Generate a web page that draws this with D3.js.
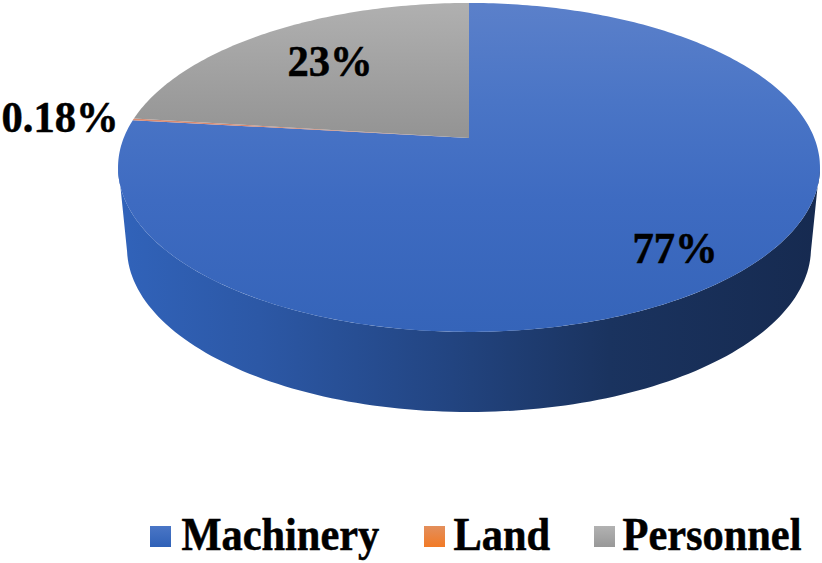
<!DOCTYPE html>
<html><head><meta charset="utf-8">
<script src="https://cdn.jsdelivr.net/npm/d3@7"></script>
<style>html,body{margin:0;padding:0;background:#fff}svg{display:block}text{font-family:"Liberation Serif",serif;font-weight:bold;fill:#000;stroke:#000;stroke-width:.5px}</style>
</head><body><svg id="c" width="822" height="563"></svg>
<script>
const categories=["Machinery","Land","Personnel"];
const shares=[76.82,0.18,23];
const valueLabels=["77%","0.18%","23%"];
const colors=["#4472c4","#ed7d31","#a5a5a5"];

const svg=d3.select("#c");
const defs=svg.append("defs");
function grad(id,horizontal,stops){
  const g=defs.append("linearGradient").attr("id",id).attr("gradientUnits","userSpaceOnUse");
  if(horizontal) g.attr("x1",118).attr("x2",820).attr("y1",0).attr("y2",0);
  else g.attr("x1",0).attr("x2",0).attr("y1",3).attr("y2",332);
  stops.forEach(s=>g.append("stop").attr("offset",s[0]).attr("stop-color",s[1]));
}
function swatch(id,stops){
  const g=defs.append("linearGradient").attr("id",id).attr("x1",0).attr("x2",0).attr("y1",0).attr("y2",1);
  stops.forEach((c,i)=>g.append("stop").attr("offset",i).attr("stop-color",c));
}
grad("topBlue",false,[[0,"#5b80ca"],[0.3,"#4a75c6"],[0.6,"#3e6bc1"],[1,"#3564b9"]]);
grad("topGray",false,[[0,"#b0b0b0"],[0.4,"#949494"]]);
grad("side",true,[[0,"#3163ba"],[0.2,"#2c58a6"],[0.45,"#234684"],[0.7,"#1a335f"],[1,"#162a50"]]);
swatch("sw0",["#4a76c6","#2f61b7"]);
swatch("sw1",["#e38f5c","#f27a26"]);
swatch("sw2",["#b2b2b2","#989898"]);

const cx=469,apexY=138,k=0.179,A=345.3,C=159.2;
function rim(a){
  const u=Math.sin(a),v=Math.cos(a),w=1+k*v;
  return [cx+A*u/w,apexY-C*v/w];
}
const pie=d3.pie().sort(null).value(d=>d)(shares);
const line=d3.line();
function wedge(d){
  const n=Math.max(2,Math.ceil((d.endAngle-d.startAngle)*60));
  const pts=[[cx,apexY]];
  d3.range(n+1).forEach(i=>pts.push(rim(d.startAngle+(d.endAngle-d.startAngle)*i/n)));
  return line(pts)+"Z";
}
// side wall: hull of the top rim and the lower (slightly smaller) rim
const botCx=469,botCy=248,botRx=342,botRy=164;
function botRim(a){return [botCx+botRx*Math.sin(a),botCy-botRy*Math.cos(a)];}
const sidePts=[];
d3.range(0,121).forEach(i=>sidePts.push(botRim(Math.PI/2+0.02+(Math.PI-0.04)*i/120)));
const topStart=Math.PI*1.5-0.16,topEnd=Math.PI/2+0.16;
d3.range(0,121).forEach(i=>sidePts.push(rim(topStart+(topEnd-topStart)*i/120)));
svg.append("path").attr("d",line(sidePts)+"Z").attr("fill","url(#side)");

const fills=["url(#topBlue)","#d98a70","url(#topGray)"];
svg.selectAll("path.s").data(pie).join("path").attr("class","s")
  .attr("d",wedge).attr("fill",(d,i)=>fills[i]);

const labelPos=[[675,263],[60,132],[330,76]];
svg.selectAll("text.v").data(valueLabels).join("text").attr("class","v")
  .attr("transform",(d,i)=>`translate(${labelPos[i][0]},${labelPos[i][1]}) scale(1,1.05)`)
  .attr("text-anchor","middle").attr("font-size",42.6).text(d=>d);

const legX=[150,424,594],legText=[181.5,453.5,622.5];
const g=svg.append("g");
categories.forEach((c,i)=>{
  g.append("rect").attr("x",legX[i]).attr("y",526).attr("width",21).attr("height",21).attr("fill",`url(#sw${i})`);
  g.append("text").attr("transform",`translate(${legText[i]},550) scale(1,1.08)`).attr("font-size",42.4).text(c);
});
</script></body></html>
